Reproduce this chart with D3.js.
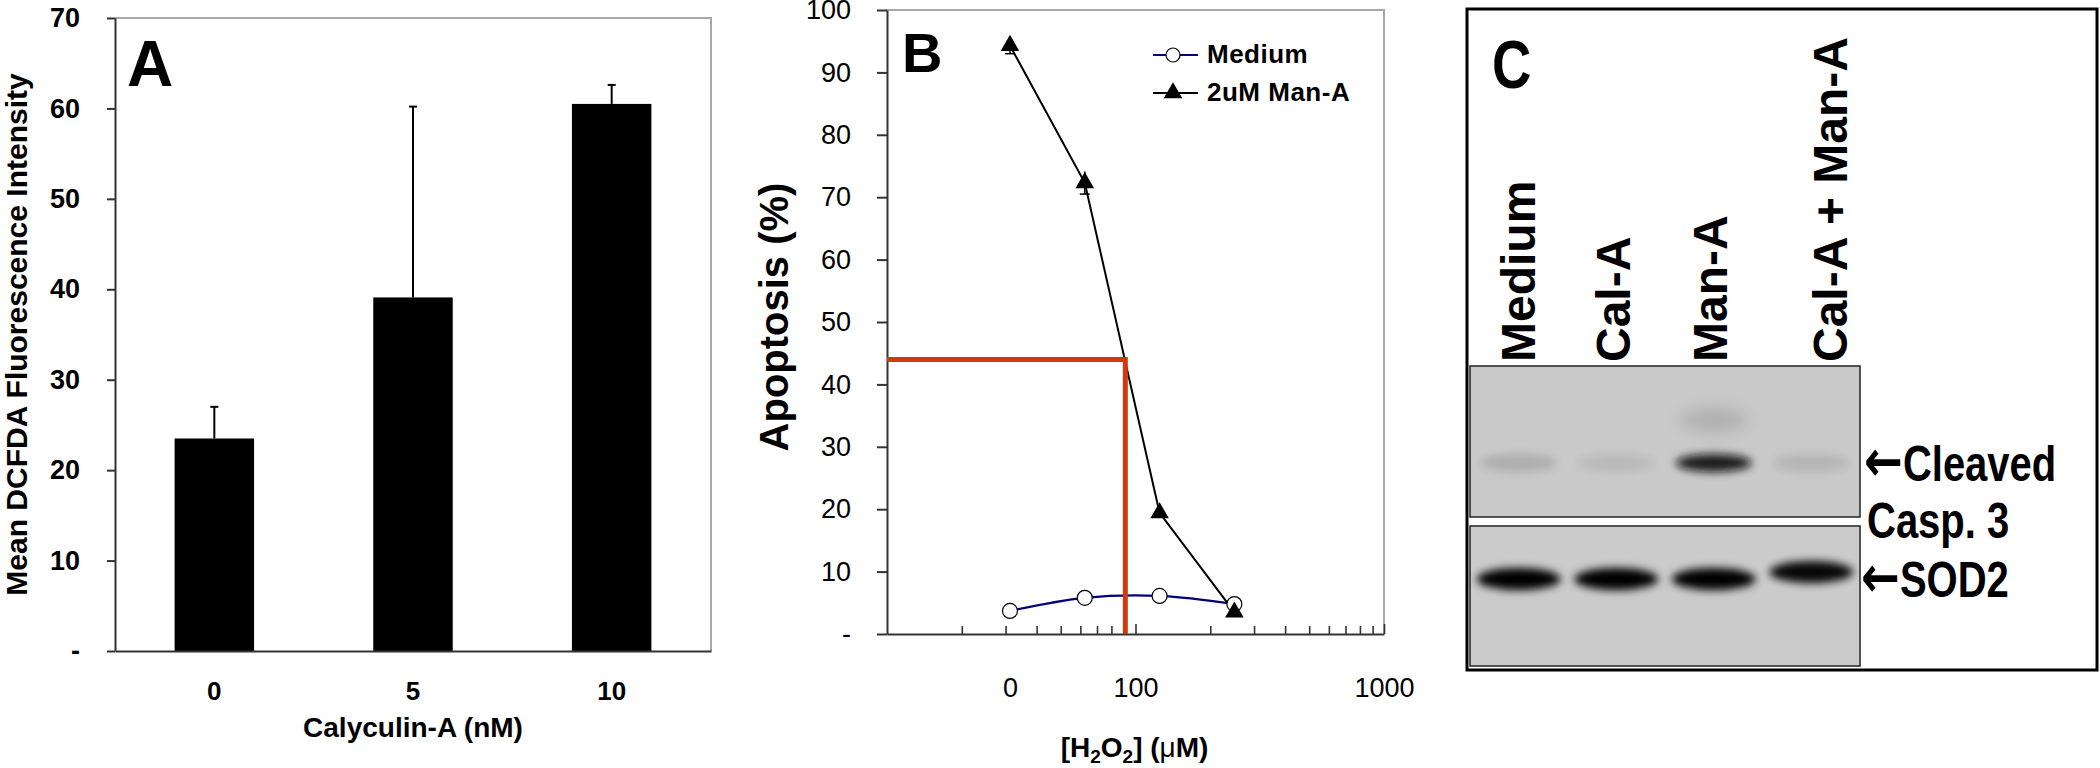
<!DOCTYPE html>
<html>
<head>
<meta charset="utf-8">
<script src="https://cdn.jsdelivr.net/npm/d3@7"></script>
<style>
  body { margin: 0; background: #fff; }
  svg text { font-family: "Liberation Sans", Arial, sans-serif; }
</style>
</head>
<body>
<svg id="fig" width="2100" height="768"></svg>
<script>
// ---- panel A: DCFDA vs calyculin-A ----
const doses = ["0", "5", "10"];
const dcfdaMean = [23.5, 39.1, 60.5];
const dcfdaErr = [3.5, 21.1, 2.1];
const aTicks = [0, 10, 20, 30, 40, 50, 60, 70];

// ---- panel B: apoptosis vs H2O2 (log x) ----
const h2o2 = [31.25, 62.5, 125, 250];
const mediumApop = [3.7, 5.8, 6.1, 4.8];
const manAApop = [94.3, 72.3, 19.4, 3.5];
const manAErr = [1.3, 1.8, 0.6, 0.4];
const bYTicks = [0, 10, 20, 30, 40, 50, 60, 70, 80, 90, 100];
const bXTickValues = [31.25, 100, 1000];
const bXTickLabels = ["0", "100", "1000"];
const refConc = 91;   // red guide line
const refApop = 44;

// ---- panel C: western blot ----
const lanes = ["Medium", "Cal-A", "Man-A", "Cal-A + Man-A"];
const casp3Signal = [0.14, 0.08, 0.92, 0.1];
const casp3Smear = [0, 0, 0.12, 0];
const sod2Signal = [1, 1, 1, 0.96];

const svg = d3.select("#fig");
const FONT = '"Liberation Sans", Arial, sans-serif';

function styleAxis(g, size, weight) {
  g.attr("font-family", FONT).attr("font-size", size).attr("font-weight", weight);
  g.selectAll(".tick line").attr("stroke", "#333").attr("stroke-width", 2);
  g.select(".domain").attr("stroke", "#333").attr("stroke-width", 2);
}

// ================= Panel A =================
const A = { left: 115, right: 711, top: 18, bottom: 651 };
const xA = d3.scaleBand().domain(doses).range([A.left, A.right]).paddingInner(0.6).paddingOuter(0.3);
const yA = d3.scaleLinear().domain([0, 70]).range([A.bottom, A.top]);
const gA = svg.append("g");

gA.append("path")
  .attr("d", `M${A.left},${A.top}H${A.right}V${A.bottom}`)
  .attr("fill", "none").attr("stroke", "#a8a8a8").attr("stroke-width", 2);

gA.selectAll("rect.bar").data(doses).join("rect")
  .attr("class", "bar")
  .attr("x", d => xA(d))
  .attr("y", (d, i) => yA(dcfdaMean[i]))
  .attr("width", xA.bandwidth())
  .attr("height", (d, i) => yA(0) - yA(dcfdaMean[i]))
  .attr("fill", "#000");

const errA = gA.selectAll("g.err").data(doses).join("g").attr("class", "err")
  .attr("stroke", "#000").attr("stroke-width", 2);
errA.append("line")
  .attr("x1", d => xA(d) + xA.bandwidth() / 2).attr("x2", d => xA(d) + xA.bandwidth() / 2)
  .attr("y1", (d, i) => yA(dcfdaMean[i])).attr("y2", (d, i) => yA(dcfdaMean[i] + dcfdaErr[i]));
errA.append("line")
  .attr("x1", d => xA(d) + xA.bandwidth() / 2 - 4).attr("x2", d => xA(d) + xA.bandwidth() / 2 + 4)
  .attr("y1", (d, i) => yA(dcfdaMean[i] + dcfdaErr[i])).attr("y2", (d, i) => yA(dcfdaMean[i] + dcfdaErr[i]));

gA.append("g")
  .attr("transform", `translate(0,${A.bottom})`)
  .call(d3.axisBottom(xA).tickSize(0).tickPadding(31))
  .call(g => styleAxis(g, 26, "bold"));

gA.append("g")
  .attr("transform", `translate(${A.left},0)`)
  .call(d3.axisLeft(yA).tickValues(aTicks).tickSize(8).tickSizeOuter(0).tickPadding(27)
    .tickFormat(d => d === 0 ? "-" : d))
  .call(g => styleAxis(g, 27, "bold"));

gA.append("text")
  .attr("x", (A.left + A.right) / 2).attr("y", 737)
  .attr("text-anchor", "middle").attr("font-size", 28).attr("font-weight", "bold")
  .text("Calyculin-A (nM)");

gA.append("text")
  .attr("transform", `translate(27,${(62 + 607) / 2}) rotate(-90)`)
  .attr("text-anchor", "middle").attr("font-size", 30).attr("font-weight", "bold")
  .text("Mean DCFDA Fluorescence Intensity");

gA.append("text")
  .attr("x", 127).attr("y", 86)
  .attr("font-size", 64).attr("font-weight", "bold")
  .text("A");

// ================= Panel B =================
const B = { left: 887, right: 1384, top: 10, bottom: 634 };
const xB = d3.scaleLog().domain([10, 1000]).range([B.left, B.right]);
const yB = d3.scaleLinear().domain([0, 100]).range([B.bottom, B.top]);
const gB = svg.append("g");

gB.append("path")
  .attr("d", `M${B.left},${B.top}H${B.right}V${B.bottom}`)
  .attr("fill", "none").attr("stroke", "#a8a8a8").attr("stroke-width", 2);

// minor log ticks pointing into the plot
const logTicks = xB.ticks().filter(v => v > 10);
gB.append("g")
  .attr("transform", `translate(0,${B.bottom})`)
  .call(d3.axisBottom(xB).tickValues(logTicks).tickSize(-8).tickSizeOuter(0).tickFormat(""))
  .call(g => styleAxis(g, 10, "normal"))
  .call(g => g.selectAll(".tick line").attr("stroke-width", 1.6))
  .call(g => g.selectAll(".tick").filter(d => d === 100 || d === 1000).select("line").attr("y2", -10));

gB.append("g")
  .attr("transform", `translate(0,${B.bottom})`)
  .call(d3.axisBottom(xB).tickValues(bXTickValues).tickSize(0).tickPadding(44)
    .tickFormat((d, i) => bXTickLabels[i]))
  .call(g => styleAxis(g, 27, "normal"))
  .call(g => g.select(".domain").remove());

gB.append("g")
  .attr("transform", `translate(${B.left},0)`)
  .call(d3.axisLeft(yB).tickValues(bYTicks).tickSize(10).tickSizeOuter(0).tickPadding(26)
    .tickFormat(d => d === 0 ? "-" : d))
  .call(g => styleAxis(g, 27, "normal"));

// series: Medium (smoothed, navy) and Man-A (straight, black)
const medLine = d3.line().x((d, i) => xB(h2o2[i])).y(d => yB(d)).curve(d3.curveCatmullRom);
const manLine = d3.line().x((d, i) => xB(h2o2[i])).y(d => yB(d));

gB.append("path").datum(mediumApop).attr("d", medLine)
  .attr("fill", "none").attr("stroke", "#000080").attr("stroke-width", 2.2);
gB.append("path").datum(manAApop).attr("d", manLine)
  .attr("fill", "none").attr("stroke", "#000").attr("stroke-width", 2);

// red guide line
gB.append("path")
  .attr("d", `M${B.left},${yB(refApop)}H${xB(refConc)}V${yB(0)}`)
  .attr("fill", "none").attr("stroke", "#d03a0a").attr("stroke-width", 5);

gB.selectAll("circle.med").data(mediumApop).join("circle")
  .attr("class", "med")
  .attr("cx", (d, i) => xB(h2o2[i])).attr("cy", d => yB(d)).attr("r", 7.5)
  .attr("fill", "#fff").attr("stroke", "#000").attr("stroke-width", 1.2);

const errB = gB.selectAll("g.errB").data(manAApop).join("g").attr("class", "errB")
  .attr("stroke", "#000").attr("stroke-width", 1.5);
errB.append("line")
  .attr("x1", (d, i) => xB(h2o2[i])).attr("x2", (d, i) => xB(h2o2[i]))
  .attr("y1", (d, i) => yB(d - manAErr[i])).attr("y2", (d, i) => yB(d + manAErr[i]));
errB.append("line")
  .attr("x1", (d, i) => xB(h2o2[i]) - 5).attr("x2", (d, i) => xB(h2o2[i]) + 5)
  .attr("y1", (d, i) => yB(d - manAErr[i])).attr("y2", (d, i) => yB(d - manAErr[i]));

const tri = d3.symbol().type(d3.symbolTriangle).size(150);
gB.selectAll("path.man").data(manAApop).join("path")
  .attr("class", "man")
  .attr("transform", (d, i) => `translate(${xB(h2o2[i])},${yB(d)})`)
  .attr("d", tri).attr("fill", "#000");

// legend
const leg = gB.append("g");
leg.append("line").attr("x1", 1153).attr("x2", 1198).attr("y1", 55).attr("y2", 55)
  .attr("stroke", "#000080").attr("stroke-width", 2);
leg.append("circle").attr("cx", 1173).attr("cy", 55).attr("r", 7)
  .attr("fill", "#fff").attr("stroke", "#000").attr("stroke-width", 1.2);
leg.append("text").attr("x", 1207).attr("y", 63)
  .attr("font-size", 26).attr("font-weight", "bold").attr("letter-spacing", 0.5).text("Medium");
leg.append("line").attr("x1", 1153).attr("x2", 1198).attr("y1", 93).attr("y2", 93)
  .attr("stroke", "#000").attr("stroke-width", 2);
leg.append("path").attr("transform", "translate(1173,93)").attr("d", tri).attr("fill", "#000");
leg.append("text").attr("x", 1207).attr("y", 101)
  .attr("font-size", 26).attr("font-weight", "bold").attr("letter-spacing", 0.5).text("2uM Man-A");

// titles
gB.append("text")
  .attr("transform", `translate(788,317) rotate(-90)`)
  .attr("text-anchor", "middle").attr("font-size", 40).attr("font-weight", "bold")
  .text("Apoptosis (%)");

const xt = gB.append("text")
  .attr("x", (B.left + B.right) / 2 - 1).attr("y", 757)
  .attr("text-anchor", "middle").attr("font-size", 28).attr("font-weight", "bold");
xt.append("tspan").text("[H");
xt.append("tspan").attr("font-size", 19).attr("dy", 6).text("2");
xt.append("tspan").attr("dy", -6).text("O");
xt.append("tspan").attr("font-size", 19).attr("dy", 6).text("2");
xt.append("tspan").attr("dy", -6).text("] (");
xt.append("tspan").attr("font-weight", "normal").text("μ");
xt.append("tspan").text("M)");

gB.append("text")
  .attr("x", 902).attr("y", 72)
  .attr("font-size", 56).attr("font-weight", "bold")
  .text("B");

// ================= Panel C =================
const C = { left: 1467, right: 2097, top: 9, bottom: 670 };
const blot = { left: 1470, right: 1860 };
const xC = d3.scaleBand().domain(lanes).range([blot.left, blot.right]);
const SQ = 0.8; // horizontal labels in the blot panel are condensed
const gC = svg.append("g");

const defs = svg.append("defs");
defs.append("filter").attr("id", "blur4").attr("x", "-50%").attr("y", "-100%")
  .attr("width", "200%").attr("height", "300%")
  .append("feGaussianBlur").attr("stdDeviation", 4);
defs.append("filter").attr("id", "blur8").attr("x", "-50%").attr("y", "-100%")
  .attr("width", "200%").attr("height", "300%")
  .append("feGaussianBlur").attr("stdDeviation", 8);

gC.append("rect")
  .attr("x", C.left).attr("y", C.top).attr("width", C.right - C.left).attr("height", C.bottom - C.top)
  .attr("fill", "#fff").attr("stroke", "#000").attr("stroke-width", 3);

// cleaved caspase-3 blot
const b1 = { top: 366, bottom: 517 };
gC.append("rect").attr("x", blot.left).attr("y", b1.top)
  .attr("width", blot.right - blot.left).attr("height", b1.bottom - b1.top)
  .attr("fill", "#c9c9c9").attr("stroke", "#222").attr("stroke-width", 1.5);
gC.selectAll("ellipse.smear").data(lanes).join("ellipse")
  .attr("class", "smear")
  .attr("cx", d => xC(d) + xC.bandwidth() / 2).attr("cy", 420)
  .attr("rx", 34).attr("ry", 12)
  .attr("fill", "#000").attr("opacity", (d, i) => casp3Smear[i])
  .attr("filter", "url(#blur8)");
gC.selectAll("ellipse.casp").data(lanes).join("ellipse")
  .attr("class", "casp")
  .attr("cx", d => xC(d) + xC.bandwidth() / 2).attr("cy", 463)
  .attr("rx", 38).attr("ry", 9)
  .attr("fill", "#111").attr("opacity", (d, i) => casp3Signal[i])
  .attr("filter", "url(#blur4)");

// SOD2 blot
const b2 = { top: 526, bottom: 666 };
gC.append("rect").attr("x", blot.left).attr("y", b2.top)
  .attr("width", blot.right - blot.left).attr("height", b2.bottom - b2.top)
  .attr("fill", "#cbcbcb").attr("stroke", "#222").attr("stroke-width", 1.5);
gC.selectAll("ellipse.sod").data(lanes).join("ellipse")
  .attr("class", "sod")
  .attr("cx", d => xC(d) + xC.bandwidth() / 2).attr("cy", (d, i) => i === 3 ? 572 : 579)
  .attr("rx", 42).attr("ry", 11)
  .attr("fill", "#050505").attr("opacity", (d, i) => sod2Signal[i])
  .attr("filter", "url(#blur4)");

// lane labels (rotated)
const laneNudge = [16, 14, 13, 36];
gC.selectAll("text.lane").data(lanes).join("text")
  .attr("class", "lane")
  .attr("transform", (d, i) => `translate(${xC(d) + xC.bandwidth() / 2 + laneNudge[i]},362) rotate(-90)`)
  .attr("font-size", 48).attr("font-weight", "bold")
  .text(d => d);

gC.append("text")
  .attr("transform", `translate(1492,88) scale(${SQ},1)`)
  .attr("font-size", 68).attr("font-weight", "bold").text("C");

function arrowLabel(x, y, label, arrow) {
  const t = gC.append("text")
    .attr("transform", `translate(${x},${y}) scale(${SQ},1)`)
    .attr("font-size", 50).attr("font-weight", "bold");
  if (arrow) t.append("tspan").attr("font-family", '"DejaVu Sans", sans-serif')
    .attr("font-size", 58).text("←");
  t.append("tspan").text(label);
}
arrowLabel(1864, 481, "Cleaved", true);
arrowLabel(1867, 538, "Casp. 3", false);
arrowLabel(1861, 597, "SOD2", true);
</script>
</body>
</html>
